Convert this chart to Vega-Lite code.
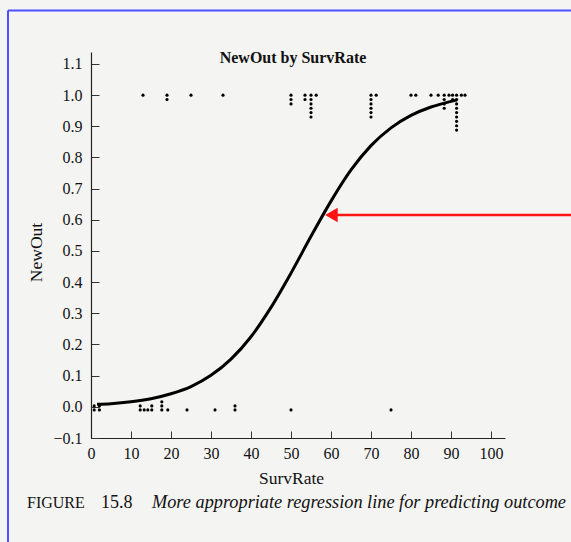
{
  "$schema": "https://vega.github.io/schema/vega-lite/v6.json",
  "width": 414,
  "height": 386,
  "autosize": "none",
  "padding": {"left": 91, "top": 52, "right": 66, "bottom": 104},
  "background": "#f4f4f2",
  "datasets": {
    "points": [
      {"SurvRate": 13, "NewOut": 1.0},
      {"SurvRate": 19, "NewOut": 1.0}, {"SurvRate": 19, "NewOut": 0.986},
      {"SurvRate": 25, "NewOut": 1.0},
      {"SurvRate": 33, "NewOut": 1.0},
      {"SurvRate": 50, "NewOut": 1.0}, {"SurvRate": 50, "NewOut": 0.986}, {"SurvRate": 50, "NewOut": 0.972},
      {"SurvRate": 53.5, "NewOut": 1.0}, {"SurvRate": 53.5, "NewOut": 0.986},
      {"SurvRate": 55, "NewOut": 1.0}, {"SurvRate": 55, "NewOut": 0.986}, {"SurvRate": 55, "NewOut": 0.972}, {"SurvRate": 55, "NewOut": 0.958}, {"SurvRate": 55, "NewOut": 0.944}, {"SurvRate": 55, "NewOut": 0.930},
      {"SurvRate": 56.3, "NewOut": 1.0},
      {"SurvRate": 70, "NewOut": 1.0}, {"SurvRate": 70, "NewOut": 0.986}, {"SurvRate": 70, "NewOut": 0.972}, {"SurvRate": 70, "NewOut": 0.958}, {"SurvRate": 70, "NewOut": 0.944}, {"SurvRate": 70, "NewOut": 0.930},
      {"SurvRate": 71.3, "NewOut": 1.0},
      {"SurvRate": 80, "NewOut": 1.0},
      {"SurvRate": 81.2, "NewOut": 1.0},
      {"SurvRate": 85, "NewOut": 1.0},
      {"SurvRate": 86.8, "NewOut": 1.0},
      {"SurvRate": 88.3, "NewOut": 1.0}, {"SurvRate": 88.3, "NewOut": 0.986}, {"SurvRate": 88.3, "NewOut": 0.972}, {"SurvRate": 88.3, "NewOut": 0.958},
      {"SurvRate": 89.5, "NewOut": 1.0},
      {"SurvRate": 90.4, "NewOut": 1.0}, {"SurvRate": 90.4, "NewOut": 0.986},
      {"SurvRate": 91.4, "NewOut": 1.0}, {"SurvRate": 91.4, "NewOut": 0.986}, {"SurvRate": 91.4, "NewOut": 0.972}, {"SurvRate": 91.4, "NewOut": 0.958}, {"SurvRate": 91.4, "NewOut": 0.944}, {"SurvRate": 91.4, "NewOut": 0.930}, {"SurvRate": 91.4, "NewOut": 0.916}, {"SurvRate": 91.4, "NewOut": 0.902}, {"SurvRate": 91.4, "NewOut": 0.888},
      {"SurvRate": 92.6, "NewOut": 1.0},
      {"SurvRate": 93.5, "NewOut": 1.0},
      {"SurvRate": 0.8, "NewOut": -0.01}, {"SurvRate": 0.8, "NewOut": 0.003},
      {"SurvRate": 2.1, "NewOut": -0.01}, {"SurvRate": 2.1, "NewOut": 0.003},
      {"SurvRate": 12.3, "NewOut": -0.01}, {"SurvRate": 12.3, "NewOut": 0.003},
      {"SurvRate": 13.3, "NewOut": -0.01},
      {"SurvRate": 14.2, "NewOut": -0.01},
      {"SurvRate": 15.2, "NewOut": -0.01}, {"SurvRate": 15.2, "NewOut": 0.003},
      {"SurvRate": 17.7, "NewOut": -0.01}, {"SurvRate": 17.7, "NewOut": 0.003}, {"SurvRate": 17.7, "NewOut": 0.016},
      {"SurvRate": 19.2, "NewOut": -0.01},
      {"SurvRate": 24, "NewOut": -0.01},
      {"SurvRate": 31, "NewOut": -0.01},
      {"SurvRate": 36, "NewOut": -0.01}, {"SurvRate": 36, "NewOut": 0.003},
      {"SurvRate": 50, "NewOut": -0.01},
      {"SurvRate": 75, "NewOut": -0.01}
    ],
    "curve": [
      {"SurvRate": 1.5, "Fit": 0.008},
      {"SurvRate": 5, "Fit": 0.010},
      {"SurvRate": 10, "Fit": 0.016},
      {"SurvRate": 15, "Fit": 0.026},
      {"SurvRate": 20, "Fit": 0.042},
      {"SurvRate": 25, "Fit": 0.065},
      {"SurvRate": 30, "Fit": 0.101},
      {"SurvRate": 35, "Fit": 0.153},
      {"SurvRate": 40, "Fit": 0.225},
      {"SurvRate": 45, "Fit": 0.319},
      {"SurvRate": 50, "Fit": 0.429},
      {"SurvRate": 55, "Fit": 0.547},
      {"SurvRate": 60, "Fit": 0.660},
      {"SurvRate": 65, "Fit": 0.760},
      {"SurvRate": 70, "Fit": 0.838},
      {"SurvRate": 75, "Fit": 0.895},
      {"SurvRate": 80, "Fit": 0.935},
      {"SurvRate": 85, "Fit": 0.962},
      {"SurvRate": 90, "Fit": 0.980},
      {"SurvRate": 91.5, "Fit": 0.985}
    ]
  },
  "config": {
    "view": {"stroke": null},
    "font": "Liberation Serif",
    "axis": {
      "grid": false,
      "domainColor": "#222",
      "domainWidth": 1.2,
      "tickColor": "#333",
      "labelColor": "#111",
      "labelFont": "Liberation Serif",
      "labelFontSize": 16,
      "labelOverlap": false,
      "titleFont": "Liberation Serif",
      "titleFontSize": 17.5,
      "titleFontWeight": "normal",
      "titleColor": "#111"
    }
  },
  "layer": [
    {
      "data": {"name": "points"},
      "mark": {"type": "point", "filled": true, "size": 10, "color": "#000", "opacity": 1},
      "encoding": {
        "x": {"field": "SurvRate", "type": "quantitative",
              "scale": {"domain": [0, 103.5], "nice": false, "zero": false},
              "axis": {"title": "SurvRate", "values": [0, 10, 20, 30, 40, 50, 60, 70, 80, 90, 100], "tickCount": 30, "tickSize": -7, "labelPadding": 14, "titlePadding": 8, "titleX": 200, "labelFlush": false, "labelOverlap": false}},
        "y": {"field": "NewOut", "type": "quantitative",
              "scale": {"domain": [-0.1, 1.1385], "nice": false, "zero": false},
              "axis": {"title": "NewOut", "values": [-0.1, 0, 0.1, 0.2, 0.3, 0.4, 0.5, 0.6, 0.7, 0.8, 0.9, 1.0, 1.1], "tickCount": 30, "format": ".1f", "tickSize": -8, "labelPadding": 17, "titlePadding": 7, "titleY": 200, "labelFlush": false, "labelOverlap": false}}
      }
    },
    {
      "data": {"name": "curve"},
      "mark": {"type": "line", "color": "#000", "strokeWidth": 3, "interpolate": "monotone"},
      "encoding": {
        "x": {"field": "SurvRate", "type": "quantitative"},
        "y": {"field": "Fit", "type": "quantitative"}
      }
    },
    {
      "data": {"values": [{}]},
      "mark": {"type": "text", "text": "NewOut by SurvRate", "font": "Liberation Serif", "fontSize": 16, "fontWeight": "bold", "align": "center", "baseline": "alphabetic", "color": "#111", "clip": false},
      "encoding": {
        "x": {"datum": 50.5, "type": "quantitative"},
        "y": {"datum": 1.103, "type": "quantitative"}
      }
    },
    {
      "data": {"values": [{}]},
      "mark": {"type": "rule", "color": "#ff1414", "strokeWidth": 2.5, "clip": false},
      "encoding": {
        "x": {"datum": 61, "type": "quantitative"},
        "x2": {"datum": 125},
        "y": {"datum": 0.6154, "type": "quantitative"}
      }
    },
    {
      "data": {"values": [{}]},
      "mark": {"type": "point", "shape": "triangle-left", "filled": true, "size": 210, "color": "#ff1414", "opacity": 1, "clip": false},
      "encoding": {
        "x": {"datum": 60.1, "type": "quantitative"},
        "y": {"datum": 0.6154, "type": "quantitative"}
      }
    },
    {
      "data": {"values": [{}]},
      "mark": {"type": "rule", "color": "#4f4fff", "strokeWidth": 2, "clip": false},
      "encoding": {
        "x": {"datum": -20.75, "type": "quantitative"},
        "y": {"datum": 1.2715, "type": "quantitative"},
        "y2": {"datum": -0.6}
      }
    },
    {
      "data": {"values": [{}]},
      "mark": {"type": "rule", "color": "#4f4fff", "strokeWidth": 2, "clip": false},
      "encoding": {
        "x": {"datum": -20.75, "type": "quantitative"},
        "x2": {"datum": 130},
        "y": {"datum": 1.2715, "type": "quantitative"}
      }
    },
    {
      "data": {"values": [{}]},
      "mark": {"type": "text", "text": "FIGURE", "font": "Liberation Serif", "fontSize": 16, "align": "left", "baseline": "alphabetic", "color": "#111", "clip": false},
      "encoding": {
        "x": {"datum": -16, "type": "quantitative"},
        "y": {"datum": -0.3246, "type": "quantitative"}
      }
    },
    {
      "data": {"values": [{}]},
      "mark": {"type": "text", "text": "15.8", "font": "Liberation Serif", "fontSize": 18, "align": "left", "baseline": "alphabetic", "color": "#111", "clip": false},
      "encoding": {
        "x": {"datum": 2.5, "type": "quantitative"},
        "y": {"datum": -0.3246, "type": "quantitative"}
      }
    },
    {
      "data": {"values": [{}]},
      "mark": {"type": "text", "text": "More appropriate regression line for predicting outcome", "font": "Liberation Serif", "fontStyle": "italic", "fontSize": 18.3, "align": "left", "baseline": "alphabetic", "color": "#111", "clip": false},
      "encoding": {
        "x": {"datum": 15.25, "type": "quantitative"},
        "y": {"datum": -0.3246, "type": "quantitative"}
      }
    }
  ]
}
